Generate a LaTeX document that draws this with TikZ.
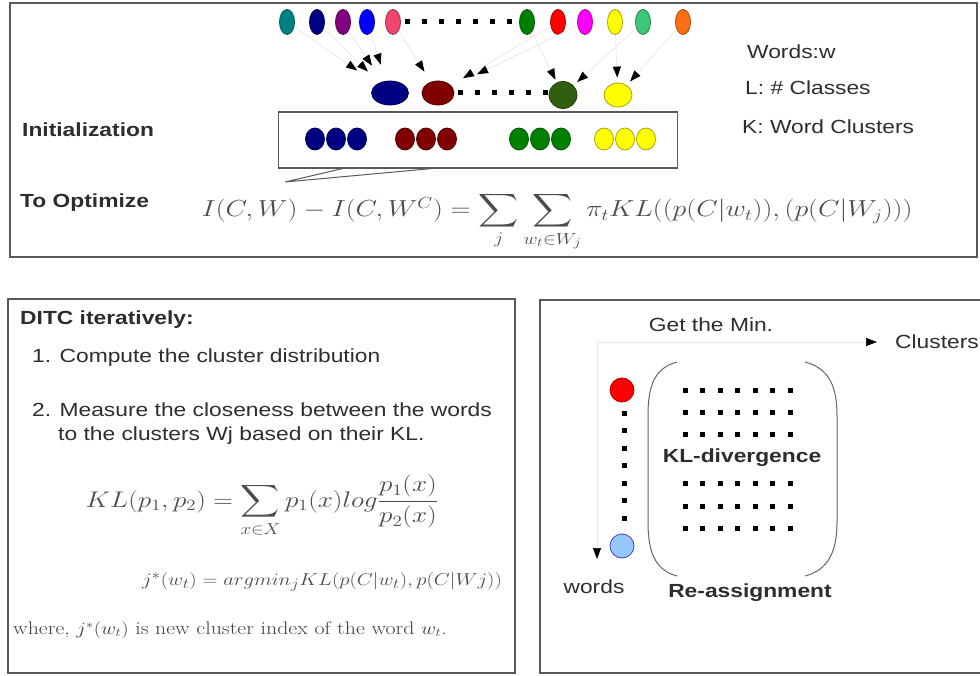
\documentclass[tikz,border=0pt]{standalone}
\usepackage{amsmath}
\usepackage{graphicx}
\usepackage{fontspec}
\usepackage{tikz}
\usetikzlibrary{shapes.geometric,arrows.meta}

\newfontfamily\arialfont[FakeStretch=1.2]{Liberation Sans}
\newcommand{\widemath}[1]{\scalebox{1.2}[1]{#1}}

\definecolor{cteal}{RGB}{0,128,128}
\definecolor{cnavy}{RGB}{0,0,130}
\definecolor{cpurple}{RGB}{128,0,128}
\definecolor{cblue}{RGB}{0,0,255}
\definecolor{cpink}{RGB}{240,70,110}
\definecolor{cgreen}{RGB}{0,128,0}
\definecolor{cred}{RGB}{255,0,0}
\definecolor{cmagenta}{RGB}{255,0,255}
\definecolor{cyellow}{RGB}{255,255,0}
\definecolor{cmint}{RGB}{60,200,120}
\definecolor{corange}{RGB}{255,110,20}
\definecolor{cdarkred}{RGB}{128,0,0}
\definecolor{colive}{RGB}{50,95,15}
\definecolor{cskyblue}{RGB}{150,200,255}
\definecolor{ink}{RGB}{45,45,45}

\tikzset{
  panel/.style={draw=gray!70!black, line width=1.6pt},
  word/.style={ellipse, draw=#1!65!black, fill=#1, line width=0.8pt,
    minimum width=15pt, minimum height=25pt, inner sep=0pt},
  clus/.style={ellipse, draw=#1!65!black, fill=#1, line width=0.8pt,
    minimum height=24pt, inner sep=0pt},
  member/.style={ellipse, draw=#1!65!black, fill=#1, line width=0.8pt,
    minimum width=19pt, minimum height=22pt, inner sep=0pt},
  label/.style={font=\arialfont\fontsize{19}{23}\selectfont, text=ink, inner sep=0pt},
  head/.style={font=\arialfont\bfseries\fontsize{19}{23}\selectfont, text=ink, inner sep=0pt},
  mathtxt/.style={font=\fontsize{19}{23}\selectfont, text=black!70, inner sep=0pt},
  bigmath/.style={mathtxt, font=\fontsize{22.5}{28}\selectfont},
  serif/.style={font=\fontsize{18.2}{22}\selectfont, text=black!75, inner sep=0pt},
  link/.style={draw=gray!18, line width=0.7pt, -{Triangle[length=11pt,width=8pt,color=black]}}
}

\begin{document}
\begin{tikzpicture}[x=1pt, y=-1pt]
\useasboundingbox (0,0) rectangle (980,676);

% panels
\draw[panel] (10,3) rectangle (977,257);
\draw[panel] (8,299) rectangle (515,673);
\draw[panel] (540,300) rectangle (990,673);

% words
\foreach \n/\x/\c in {w1/287/cteal, w2/317/cnavy, w3/343/cpurple, w4/367/cblue,
    w5/393/cpink, w6/527/cgreen, w7/558/cred, w8/585/cmagenta, w9/615/cyellow,
    w10/643/cmint, w11/683/corange}
  \node[word=\c] (\n) at (\x,22) {};
\foreach \x in {407,424,...,509}
  \fill (\x-2.5,19.5) rectangle (\x+2.5,24.5);

% clusters
\node[clus=cnavy, minimum width=37pt] (c1) at (390,93) {};
\node[clus=cdarkred, minimum width=32pt] (c2) at (438,93) {};
\node[clus=colive, minimum width=28pt, minimum height=27pt] (c3) at (563,95) {};
\node[clus=cyellow, minimum width=28pt] (c4) at (618,95) {};
\foreach \x in {460,477,...,545}
  \fill (\x-2.5,90.5) rectangle (\x+2.5,95.5);

% words to clusters
\foreach \a/\b/\s in {w1/c1/24, w2/c1/16, w3/c1/19, w4/c1/17, w5/c2/12,
    w6/c3/3, w7/c2/14, w8/c2/28, w9/c4/5, w10/c3/5, w11/c4/5}
  \draw[link, shorten >=\s pt] (\a) -- (\b);

% initialization
\node[draw=gray!70!black, line width=1.4pt, minimum width=399pt, minimum height=56pt,
  inner sep=0pt] (ibox) at (478,140) {};
\coordinate (tip) at (285,182);
\draw[gray!70!black, line width=1pt] (345,168) -- (tip) -- (438,168);
\foreach \x/\c in {315/cnavy, 336/cnavy, 357/cnavy, 405/cdarkred, 426/cdarkred,
    447/cdarkred, 519/cgreen, 540/cgreen, 561/cgreen, 604/cyellow, 625/cyellow, 646/cyellow}
  \node[member=\c] (m\x) at (\x,139) {};

\node[label, anchor=west] (wordsw) at (747,52) {Words:w};
\node[label, anchor=west] (classes) at (745,88) {L: \# Classes};
\node[label, anchor=west] (kclus) at (742,127) {K: Word Clusters};
\node[head, anchor=west] (initlbl) at (22,130) {Initialization};
\node[head, anchor=west] (optlbl) at (20,203) {To Optimize};
\node[bigmath] (objective) at (557,222)
  {\scalebox{1.345}[1.12]{$I(C,W) - I(C,W^C) = \displaystyle\sum_j \sum_{w_t\in W_j} \pi_t KL((p(C|w_t)),(p(C|W_j)))$}};

% DITC steps
\node[head, anchor=west] (ditc) at (20,320) {DITC iteratively:};
\node[label, anchor=west] (step1) at (32,358) {1. Compute the cluster distribution};
\node[label, anchor=west] (step2) at (32,410) {2. Measure the closeness between the words};
\node[label, anchor=west] (step2b) at (58,436) {to the clusters Wj based on their KL.};
\node[bigmath] (kldef) at (262,506)
  {\scalebox{1.31}[1.09]{$KL(p_1,p_2) = \displaystyle\sum_{x\in X} p_1(x) log \frac{p_1(x)}{p_2(x)}$}};
\node[mathtxt] (jstar) at (322,582)
  {\widemath{$j^*(w_t) = argmin_j KL(p(C|w_t), p(C|Wj))$}};
\node[serif, anchor=west] (where) at (13,630)
  {\widemath{where, $j^*(w_t)$ is new cluster index of the word $w_t$.}};

% reassignment
\node[label] (getmin) at (711,325) {Get the Min.};
\coordinate (corner) at (597,342);
\coordinate (wordend) at (597,559);
\node[label, anchor=west] (clusters) at (895,342) {Clusters};
\draw[link, shorten >=18pt] (corner) -- (clusters);
\draw[link] (corner) -- (wordend);
\node[circle, fill=cred, draw=cred!70!black, line width=0.8pt, minimum size=24pt] (first) at (622,390) {};
\node[circle, fill=cskyblue, draw=blue!50!gray, line width=0.8pt, minimum size=24pt] (last) at (622,546) {};
\foreach \y in {413,430.5,...,519}
  \fill (622,\y-2.5) rectangle (627,\y+2.5);
\node[label] (wordslbl) at (594,587) {words};
\draw[gray!80!black, line width=1pt] (677,362) .. controls (655,368) and (648,385) .. (648,415)
  -- (648,522) .. controls (648,552) and (655,570) .. (677,576);
\draw[gray!80!black, line width=1pt] (805,362) .. controls (828,368) and (837,385) .. (837,415)
  -- (837,522) .. controls (837,552) and (828,570) .. (805,576);
\foreach \y in {390,412,434,483,506,528}
  \foreach \x in {685,702.5,...,795}
    \fill (\x-2.5,\y-2.5) rectangle (\x+2.5,\y+2.5);
\node[head] (kldiv) at (742,458) {KL-divergence};
\node[head] (reassign) at (750,593) {Re-assignment};
\end{tikzpicture}
\end{document}
